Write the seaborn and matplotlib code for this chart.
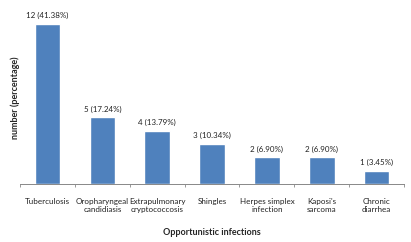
import matplotlib
matplotlib.use("Agg")
import matplotlib.pyplot as plt
import numpy as np
import pandas as pd
import seaborn as sns

sns.set_style("white")
plt.rcParams["font.family"] = ["Lato", "DejaVu Sans"]

# Data
infections = [
    "Tuberculosis",
    "Oropharyngeal\ncandidiasis",
    "Extrapulmonary\ncryptococcosis",
    "Shingles",
    "Herpes simplex\ninfection",
    "Kaposi's\nsarcoma",
    "Chronic\ndiarrhea",
]
counts = [12, 5, 4, 3, 2, 2, 1]
percents = [41.38, 17.24, 13.79, 10.34, 6.90, 6.90, 3.45]

df = pd.DataFrame({"infection": infections, "count": counts, "pct": percents})

fig = plt.figure(figsize=(4.11, 2.42), dpi=100)
ax = fig.add_axes([0.049, 0.24, 0.934, 0.71])

sns.barplot(data=df, x="infection", y="count", color="#4F81BD",
            width=0.47, saturation=1, ax=ax)

for i, (c, p) in enumerate(zip(counts, percents)):
    ax.text(i, c + 0.35, f"{c} ({p:.2f}%)", ha="center", va="bottom",
            fontsize=5.8, color="#222222")

ax.set_ylim(0, 12.9)
ax.set_xlim(-0.5, len(infections) - 0.5)
ax.set_yticks([])

# tick marks at category boundaries, as in the original
ax.set_xticks(np.arange(len(infections) + 1) - 0.5, minor=True)
ax.tick_params(axis="x", which="minor", length=2.5, width=0.6,
               color="#888888", direction="out", bottom=True)
ax.tick_params(axis="x", which="major", length=0, pad=10,
               labelsize=5.8, labelcolor="#222222")

for s in ["top", "right", "left"]:
    ax.spines[s].set_visible(False)
ax.spines["bottom"].set_color("#888888")
ax.spines["bottom"].set_linewidth(0.7)

ax.set_xlabel("Opportunistic infections", fontsize=6.5, fontweight="bold",
              labelpad=11)
ax.set_ylabel("number (percentage)", fontsize=6.5, fontweight="bold",
              labelpad=0)

fig.savefig("out.png", dpi=100)
